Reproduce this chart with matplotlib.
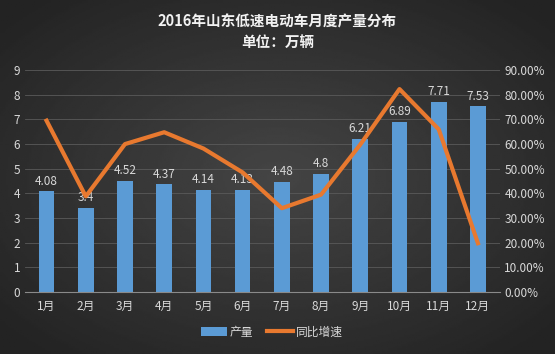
import numpy as np
import matplotlib.pyplot as plt
from matplotlib.ticker import PercentFormatter

plt.rcParams['font.family'] = ['Noto Sans CJK SC', 'DejaVu Sans']

# Data
months = ["1月", "2月", "3月", "4月", "5月", "6月", "7月", "8月", "9月", "10月", "11月", "12月"]
output = [4.08, 3.4, 4.52, 4.37, 4.14, 4.13, 4.48, 4.8, 6.21, 6.89, 7.71, 7.53]
growth = [69.5, 38.8, 60.0, 64.8, 58.2, 48.5, 34.0, 39.5, 59.8, 82.3, 66.0, 19.8]

text_col = "#d9d9d9"
bar_col = "#5b9bd5"
line_col = "#e8792f"

fig = plt.figure(figsize=(5.55, 3.54), dpi=100)

# radial dark background
bg = fig.add_axes([0, 0, 1, 1], zorder=-1)
yy, xx = np.mgrid[-1:1:200j, -1:1:300j]
r = np.sqrt(xx ** 2 + yy ** 2)
bg.imshow(0.27 - 0.13 * np.clip(r / 1.3, 0, 1), cmap="gray", vmin=0, vmax=1,
          aspect="auto", extent=[0, 1, 0, 1])
bg.axis("off")

ax = fig.add_axes([0.045, 0.175, 0.855, 0.627])
ax.patch.set_alpha(0)
x = np.arange(len(months))
bars = ax.bar(x, output, width=0.4, color=bar_col, label="产量", zorder=2)
for xi, v in zip(x, output):
    ax.text(xi, v + 0.15, f"{v:g}", ha="center", va="bottom", color=text_col, fontsize=8.5)

ax.set_ylim(0, 9)
ax.set_yticks(range(10))
ax.set_xlim(-0.55, 11.55)
ax.set_xticks(x)
ax.set_xticklabels(months)
ax.grid(axis="y", color="#5a5a5a", linewidth=0.6, zorder=0)
ax.tick_params(colors=text_col, labelsize=8.5, length=0)
ax.tick_params(axis="x", pad=6)
for s in ["top", "right", "left"]:
    ax.spines[s].set_visible(False)
ax.spines["bottom"].set_color("#8a8a8a")

ax2 = ax.twinx()
line, = ax2.plot(x, growth, color=line_col, linewidth=3, label="同比增速", zorder=3)
ax2.set_ylim(0, 90)
ax2.set_yticks(range(0, 91, 10))
ax2.yaxis.set_major_formatter(PercentFormatter(decimals=2))
ax2.tick_params(colors=text_col, labelsize=8.5, length=0)
for s in ax2.spines.values():
    s.set_visible(False)

fig.text(0.5, 0.94, "2016年山东低速电动车月度产量分布", ha="center", va="center",
         color="#f2f2f2", fontsize=10.5, fontweight="bold")
fig.text(0.5, 0.883, "单位：万辆", ha="center", va="center",
         color="#f2f2f2", fontsize=10.5, fontweight="bold")

fig.legend([bars, line], ["产量", "同比增速"], loc="center", bbox_to_anchor=(0.49, 0.062),
           ncol=2, frameon=False, fontsize=8.5, labelcolor=text_col,
           handlelength=2.2, handletextpad=0.2, columnspacing=1.2)

fig.savefig("out.png", dpi=100)
